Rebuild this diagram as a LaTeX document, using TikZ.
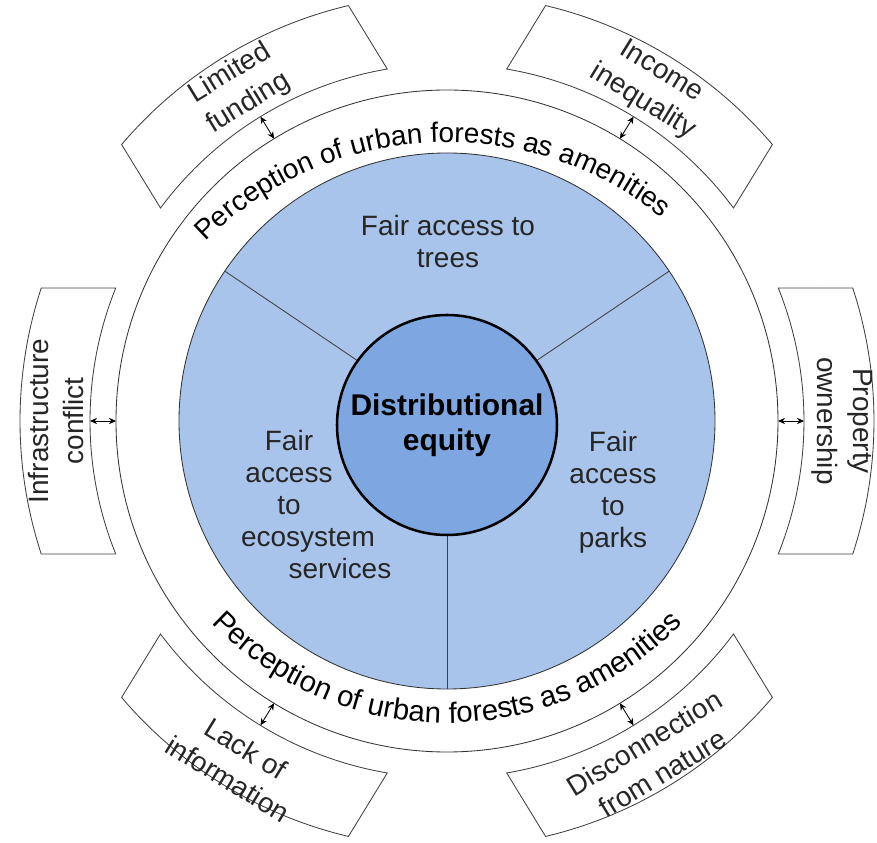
\documentclass[tikz,border=0pt]{standalone}
\usepackage{fontspec}
\setmainfont{Liberation Sans}
\usetikzlibrary{decorations.text,arrows.meta}
\definecolor{discblue}{HTML}{A9C4EB}
\definecolor{hubblue}{HTML}{7EA6E0}

\begin{document}
\begin{tikzpicture}[
    every node/.style = {font = \fontsize{19.9}{22.8}\selectfont, text = black!85},
    sector/.style = {align = center, anchor = north, inner sep = 0pt},
    barrier/.style = {align = center, inner sep = 0pt, font = \fontsize{19.9}{25}\selectfont},
    hub/.style = {circle, draw, line width = 1.8pt, fill = hubblue, minimum size = 5.5cm,
        align = center, text = black, font = \fontsize{21.3}{24.9}\selectfont\bfseries},
    boxline/.style = {draw = black!75, line width = 0.6pt, fill = white},
    ringline/.style = {draw = black!80, line width = 0.6pt},
    link/.style = {{Stealth[length=5pt,width=4.5pt]}-{Stealth[length=5pt,width=4.5pt]}, line width = 0.6pt},
    arctext/.style 2 args = {decorate, decoration = {text along path, text align = center,
        text = {|\fontsize{#1}{22.8}\selectfont|#2}}}]

\useasboundingbox (-11.175,-10.55) rectangle (10.75,10.525);

\foreach \a/\n in {0/property,58.5/income,121.5/funding,180/infra,238.5/lack,301.5/nature}{
  \draw[boxline] (\a+21.87:8.925) arc[start angle=\a+21.87, end angle=\a-21.87, radius=8.925]
    -- (\a-18.15:10.675) arc[start angle=\a-18.15, end angle=\a+18.15, radius=10.675] -- cycle;
  \coordinate (ring-\n) at (\a:8.275);
  \coordinate (box-\n) at (\a:8.925);
}

\draw[ringline, fill = white] (0,0) circle[radius=8.275];
\draw[ringline, fill = discblue] (0,0) circle[radius=6.7];
\foreach \a in {34,146,270}
  \draw[black!75, line width = 0.6pt] (0,0) -- (\a:6.7);
\node[hub] (hub) at (0,-0.1) {Distributional\\equity};

\path[arctext = {19.9}{Perception of urban forests as amenities}]
  ([shift={(0,-1.575)}]143:8.55) arc[start angle=143, end angle=43, radius=8.55];
\path[arctext = {20.9}{Perception of urban forests as amenities}]
  ([shift={(0,0.65)}]218:8.2) arc[start angle=218, end angle=322, radius=8.2];

\foreach \n in {property,income,funding,infra,lack,nature}
  \draw[link] (ring-\n) -- (box-\n);

\node[sector] (trees) at (0.025,5.15) {Fair access to\\trees};
\node[sector] (services) at (-3.95,-0.225)
  {Fair\\access\\to\\\hspace*{0.95cm}ecosystem\\\hspace*{2.55cm}services};
\node[sector] (parks) at (4.15,-0.25) {Fair\\access\\to\\parks};

\node[barrier, rotate=31.5] (funding) at (122:9.8) {Limited\\funding};
\node[barrier, rotate=-31.5] (income) at (58.5:9.8) {Income\\inequality};
\node[barrier, rotate=90] (infra) at (180:9.78) {Infrastructure\\conflict};
\node[barrier, rotate=-90] (property) at (0:9.88) {Property\\ownership};
\node[barrier, rotate=-31.5] (lack) at (238.5:10.05) {Lack of\\information};
\node[barrier, rotate=31.5] (nature) at (301.5:9.88) {Disconnection\\from nature};
\end{tikzpicture}
\end{document}
